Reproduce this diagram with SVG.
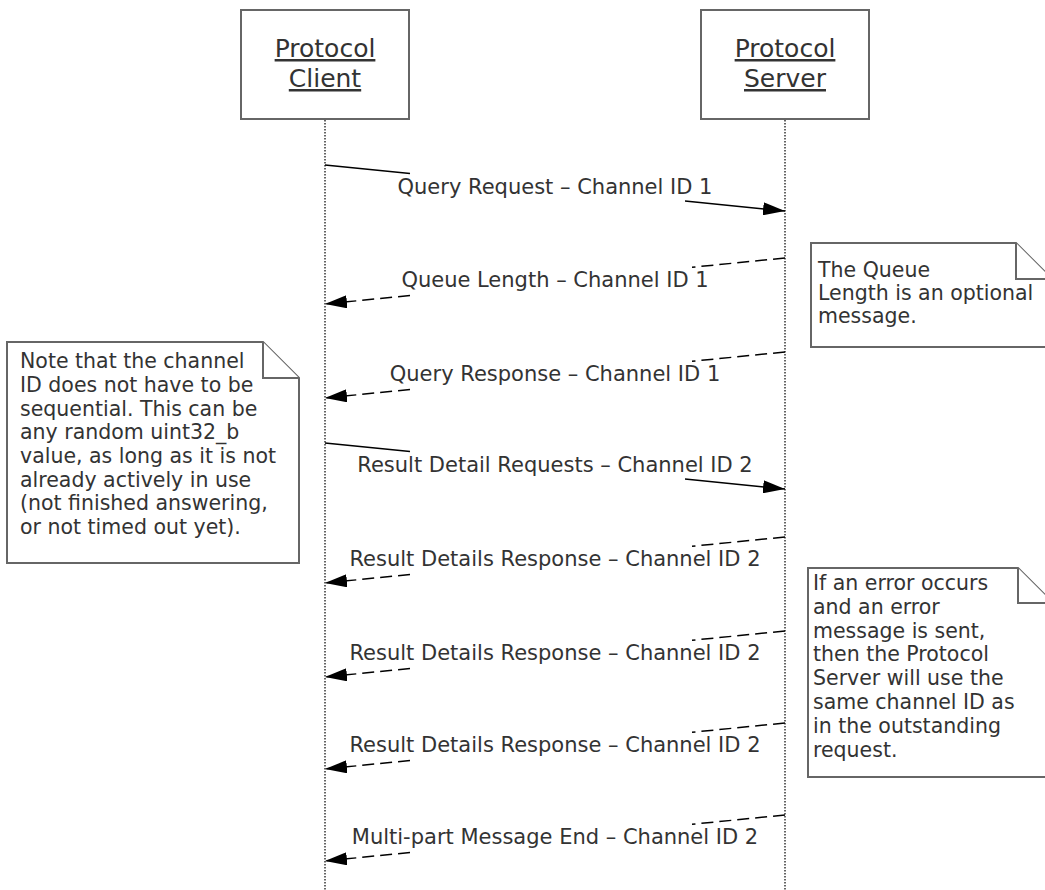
<svg xmlns="http://www.w3.org/2000/svg" width="1045" height="890" viewBox="0 0 1045 890">
<style>
.box{fill:#fff;stroke:#666;stroke-width:2}
.hdr{font-family:"DejaVu Sans",Verdana,sans-serif;font-size:25px;fill:#333;text-anchor:middle;text-decoration:underline}
.lbl{font-family:"DejaVu Sans",Verdana,sans-serif;font-size:21px;fill:#333;text-anchor:middle}
.nt{font-family:"DejaVu Sans",Verdana,sans-serif;font-size:20.5px;fill:#333}
.life{stroke:#333;stroke-width:1.5;stroke-dasharray:1.5,1.5;fill:none}
.sol{stroke:#000;stroke-width:1.5;fill:none}
.dsh{stroke:#000;stroke-width:1.5;fill:none;stroke-dasharray:12,6}
</style>
<defs>
<marker id="ah" viewBox="0 0 22 13" refX="22" refY="6.5" markerWidth="22" markerHeight="13" markerUnits="userSpaceOnUse" orient="auto">
<path d="M0,0 L22,6.5 L0,13 Z" fill="#000"/>
</marker>
</defs>
<rect width="1045" height="890" fill="#fff"/>
<g id="client">
<rect class="box" x="241" y="10" width="168" height="109"/>
<text class="hdr" x="325" y="57">Protocol</text>
<text class="hdr" x="325" y="87">Client</text>
<line class="life" x1="325" y1="120" x2="325" y2="890"/>
</g>
<g id="server">
<rect class="box" x="701" y="10" width="168" height="109"/>
<text class="hdr" x="785" y="57">Protocol</text>
<text class="hdr" x="785" y="87">Server</text>
<line class="life" x1="785" y1="120" x2="785" y2="890"/>
</g>
<g id="connectors">
<path class="sol" d="M325,165 L410,173.5"/>
<path class="sol" d="M685,201 L785,211" marker-end="url(#ah)"/>
<text class="lbl" x="555" y="194">Query Request – Channel ID 1</text>

<path class="dsh" d="M785,258 L692,267.3"/>
<path class="dsh" d="M410,295.5 L325,304" marker-end="url(#ah)"/>
<text class="lbl" x="555" y="287">Queue Length – Channel ID 1</text>

<path class="dsh" d="M785,352 L692,361.3"/>
<path class="dsh" d="M410,389.5 L325,398" marker-end="url(#ah)"/>
<text class="lbl" x="555" y="381">Query Response – Channel ID 1</text>

<path class="sol" d="M325,443 L410,451.5"/>
<path class="sol" d="M685,479 L785,489" marker-end="url(#ah)"/>
<text class="lbl" x="555" y="472">Result Detail Requests – Channel ID 2</text>

<path class="dsh" d="M785,537 L692,546.3"/>
<path class="dsh" d="M410,574.5 L325,583" marker-end="url(#ah)"/>
<text class="lbl" x="555" y="566">Result Details Response – Channel ID 2</text>

<path class="dsh" d="M785,631 L692,640.3"/>
<path class="dsh" d="M410,668.5 L325,677" marker-end="url(#ah)"/>
<text class="lbl" x="555" y="660">Result Details Response – Channel ID 2</text>

<path class="dsh" d="M785,723 L692,732.3"/>
<path class="dsh" d="M410,760.5 L325,769" marker-end="url(#ah)"/>
<text class="lbl" x="555" y="752">Result Details Response – Channel ID 2</text>

<path class="dsh" d="M785,815 L692,824.3"/>
<path class="dsh" d="M410,852.5 L325,861" marker-end="url(#ah)"/>
<text class="lbl" x="555" y="844">Multi-part Message End – Channel ID 2</text>
</g>
<g id="note1">
<path class="box" d="M811,243 H1016 L1052,279 V347 H811 Z"/>
<path class="box" fill="none" d="M1016,243 V279 H1052"/>
<text class="nt" x="818" y="277">The Queue</text>
<text class="nt" x="818" y="300">Length is an optional</text>
<text class="nt" x="818" y="323">message.</text>
</g>
<g id="note2">
<path class="box" d="M7,342 H263 L299,378 V563 H7 Z"/>
<path class="box" fill="none" d="M263,342 V378 H299"/>
<text class="nt" x="20" y="368">Note that the channel</text>
<text class="nt" x="20" y="392">ID does not have to be</text>
<text class="nt" x="20" y="416">sequential. This can be</text>
<text class="nt" x="20" y="439">any random uint32_b</text>
<text class="nt" x="20" y="463">value, as long as it is not</text>
<text class="nt" x="20" y="487">already actively in use</text>
<text class="nt" x="20" y="510">(not finished answering,</text>
<text class="nt" x="20" y="534">or not timed out yet).</text>
</g>
<g id="note3">
<path class="box" d="M808,568 H1018 L1053,603 V777 H808 Z"/>
<path class="box" fill="none" d="M1018,568 V603 H1053"/>
<text class="nt" x="813" y="590">If an error occurs</text>
<text class="nt" x="813" y="614">and an error</text>
<text class="nt" x="813" y="638">message is sent,</text>
<text class="nt" x="813" y="661">then the Protocol</text>
<text class="nt" x="813" y="685">Server will use the</text>
<text class="nt" x="813" y="709">same channel ID as</text>
<text class="nt" x="813" y="733">in the outstanding</text>
<text class="nt" x="813" y="757">request.</text>
</g>
</svg>
